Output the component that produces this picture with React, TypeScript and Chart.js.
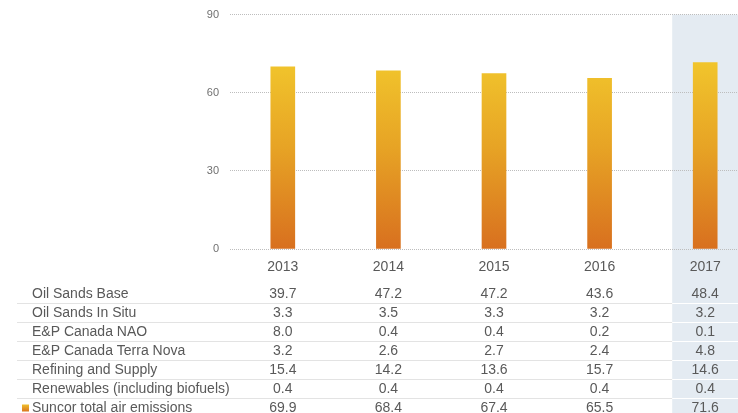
import React, { useEffect, useRef } from "react";
import { Chart, registerables } from "chart.js";

Chart.register(...registerables);

const years = ["2013", "2014", "2015", "2016", "2017"];
const totalEmissions = [69.9, 68.4, 67.4, 65.5, 71.6];
const yTicks = [0, 30, 60, 90];

const rowLabels = [
  "Oil Sands Base",
  "Oil Sands In Situ",
  "E&P Canada NAO",
  "E&P Canada Terra Nova",
  "Refining and Supply",
  "Renewables (including biofuels)",
  "Suncor total air emissions",
];
const oilSandsBase = [39.7, 47.2, 47.2, 43.6, 48.4];
const oilSandsInSitu = [3.3, 3.5, 3.3, 3.2, 3.2];
const epCanadaNAO = [8.0, 0.4, 0.4, 0.2, 0.1];
const epTerraNova = [3.2, 2.6, 2.7, 2.4, 4.8];
const refiningSupply = [15.4, 14.2, 13.6, 15.7, 14.6];
const renewables = [0.4, 0.4, 0.4, 0.4, 0.4];

const tableRows = [
  oilSandsBase,
  oilSandsInSitu,
  epCanadaNAO,
  epTerraNova,
  refiningSupply,
  renewables,
  totalEmissions,
];

const FONT = "'Liberation Sans', Arial, sans-serif";
const YELLOW = "#F1C52C";
const ORANGE = "#D8701F";

export default function App() {
  const canvasRef = useRef<HTMLCanvasElement | null>(null);

  useEffect(() => {
    if (!canvasRef.current) return;

    const bandPlugin = {
      id: "band",
      beforeDraw(chart: any) {
        const { ctx, chartArea, scales } = chart;
        const x = scales.x.getPixelForValue(years.length - 1);
        ctx.save();
        ctx.fillStyle = "#E4EBF2";
        ctx.fillRect(x - 33, chartArea.top, 66, chart.height - chartArea.top);
        ctx.restore();
      },
    };

    const tablePlugin = {
      id: "table",
      afterDraw(chart: any) {
        const { ctx, chartArea, scales } = chart;
        const bandX = scales.x.getPixelForValue(years.length - 1) - 33;
        const rowH = 19;
        const firstY = chartArea.bottom + 45;
        ctx.save();
        ctx.font = `14px ${FONT}`;
        ctx.textBaseline = "middle";
        for (let r = 0; r < rowLabels.length; r++) {
          const y = firstY + r * rowH;
          if (r < rowLabels.length - 1) {
            const ly = y + rowH / 2;
            ctx.lineWidth = 1.2;
            ctx.strokeStyle = "#E3E3E3";
            ctx.beginPath();
            ctx.moveTo(17, ly);
            ctx.lineTo(bandX, ly);
            ctx.stroke();
            ctx.strokeStyle = "#FFFFFF";
            ctx.beginPath();
            ctx.moveTo(bandX, ly);
            ctx.lineTo(chart.width, ly);
            ctx.stroke();
          }
          ctx.fillStyle = "#595959";
          ctx.textAlign = "left";
          ctx.fillText(rowLabels[r], 32, y);
          ctx.textAlign = "center";
          const vals = tableRows[r];
          for (let i = 0; i < vals.length; i++) {
            ctx.fillText(vals[i].toFixed(1), scales.x.getPixelForValue(i), y);
          }
        }
        const ty = firstY + (rowLabels.length - 1) * rowH;
        const g = ctx.createLinearGradient(0, ty - 4, 0, ty + 4);
        g.addColorStop(0, YELLOW);
        g.addColorStop(1, ORANGE);
        ctx.fillStyle = g;
        ctx.fillRect(22, ty - 3.5, 7, 7);
        ctx.restore();
      },
    };

    const chart = new Chart(canvasRef.current, {
      type: "bar",
      data: {
        labels: years,
        datasets: [
          {
            label: "Suncor total air emissions",
            data: totalEmissions,
            backgroundColor: (c: any) => {
              const ch = c.chart;
              const ys = ch.scales?.y;
              if (!ch.chartArea || !ys) return ORANGE;
              const y0 = ys.getPixelForValue(72);
              const y1 = ys.getPixelForValue(0);
              if (!isFinite(y0) || !isFinite(y1)) return ORANGE;
              const g = ch.ctx.createLinearGradient(0, y0, 0, y1);
              g.addColorStop(0, YELLOW);
              g.addColorStop(0.45, "#E7A425");
              g.addColorStop(1, ORANGE);
              return g;
            },
            borderWidth: 0,
            barThickness: 24,
          },
        ],
      },
      options: {
        animation: false,
        responsive: false,
        maintainAspectRatio: false,
        layout: { padding: { top: 8, right: 12, left: 0, bottom: 0 } },
        plugins: { legend: { display: false }, tooltip: { enabled: false } },
        scales: {
          x: {
            offset: true,
            grid: { display: false, drawTicks: false },
            border: { display: false },
            ticks: { color: "#595959", font: { family: FONT, size: 14 }, padding: 10 },
            afterFit(scale: any) {
              scale.height = 164;
            },
          },
          y: {
            min: 0,
            max: 90,
            afterBuildTicks(scale: any) {
              scale.ticks = yTicks.map((v) => ({ value: v }));
            },
            grid: {
              color: "#BDBDBD",
              lineWidth: 1,
              drawTicks: false,
            },
            border: { display: false, dash: [1, 1] },
            ticks: { color: "#707070", font: { family: FONT, size: 11 }, padding: 11 },
            afterFit(scale: any) {
              scale.width = 230;
            },
          },
        },
      },
      plugins: [bandPlugin, tablePlugin],
    });

    return () => chart.destroy();
  }, []);

  return (
    <div style={{ position: "fixed", left: 0, top: 0, width: 738, height: 413, overflow: "hidden", background: "#fff" }}>
      <canvas
        ref={canvasRef}
        width={770}
        height={416}
        style={{ display: "block", width: 770, height: 416, marginTop: -3 }}
      />
    </div>
  );
}
